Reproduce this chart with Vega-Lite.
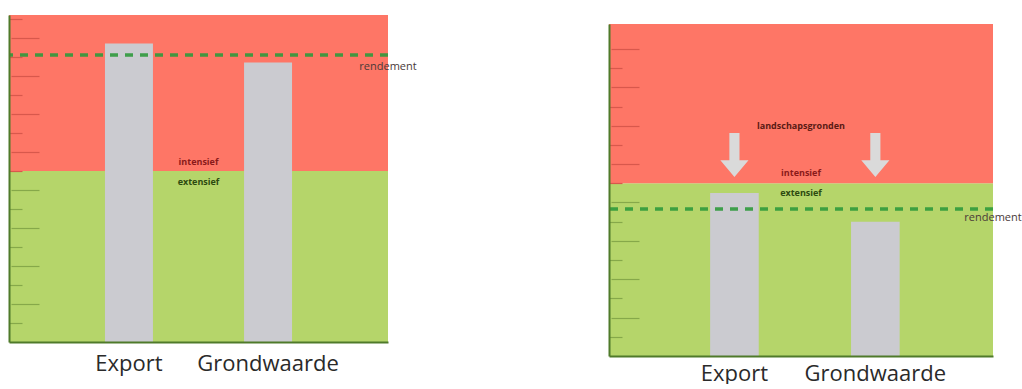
{
  "$schema": "https://vega.github.io/schema/vega-lite/v6.json",
  "background": "white",
  "padding": {"left": 7, "top": 15, "right": 0, "bottom": 0},
  "spacing": 190,
  "bounds": "full",
  "config": {"view": {"stroke": null}, "font": "Open Sans"},
  "datasets": {
    "zonesL": [{"zone": "extensief", "van": 0, "tot": 9}, {"zone": "intensief", "van": 9, "tot": 17.2}],
    "zonesR": [{"zone": "extensief", "van": 0, "tot": 9}, {"zone": "intensief", "van": 9, "tot": 17.3}],
    "barsL": [{"categorie": "Export", "waarde": 15.7}, {"categorie": "Grondwaarde", "waarde": 14.7}],
    "barsR": [{"categorie": "Export", "waarde": 8.5}, {"categorie": "Grondwaarde", "waarde": 7.0}],
    "rendL": [{"label": "rendement", "rendement": 15.1, "labelY": 14.47}],
    "rendR": [{"label": "rendement", "rendement": 7.66, "labelY": 7.19}],
    "intL": [{"label": "intensief", "y": 9.47}],
    "extL": [{"label": "extensief", "y": 8.42}],
    "intR": [{"label": "intensief", "y": 9.53}],
    "extR": [{"label": "extensief", "y": 8.49}],
    "landR": [{"label": "landschapsgronden", "y": 11.98}],
    "arrowsR": [{"categorie": "Export", "y": 10.47}, {"categorie": "Grondwaarde", "y": 10.47}]
  },
  "hconcat": [
    {
      "width": 379,
      "height": 327,
      "resolve": {"axis": {"y": "independent"}},
      "layer": [
        {
          "data": {"name": "zonesL"},
          "mark": {"type": "rect"},
          "encoding": {
            "y": {"field": "van", "type": "quantitative",
              "scale": {"domain": [0, 17.2], "nice": false, "zero": true},
              "axis": {"title": null, "labels": false, "grid": false, "zindex": 1, "orient": "left",
                "values": [1,3,5,7,9,11,13,15,17],
                "ticks": true, "tickSize": -13,
                "tickColor": {"condition": {"test": "datum.value >= 9", "value": "#d8584c"}, "value": "#86a84a"},
                "tickWidth": 1.2,
                "domainColor": "#4f7a2a", "domainWidth": 2}},
            "y2": {"field": "tot"},
            "color": {"field": "zone", "type": "nominal",
              "scale": {"domain": ["extensief", "intensief"], "range": ["#b5d56a", "#fe7666"]},
              "legend": null}
          }
        },
        {
          "data": {"name": "barsL"},
          "mark": {"type": "bar", "color": "#cbcbd0"},
          "encoding": {
            "x": {"field": "categorie", "type": "nominal",
              "scale": {"paddingInner": 0.655, "paddingOuter": 0.69, "align": 0.5},
              "axis": {"title": null, "labelAngle": 0, "ticks": false, "labelFontSize": 22, "zindex": 1,
                "labelFont": "Open Sans", "labelColor": "#2a2a2a", "labelPadding": 11,
                "domainColor": "#4f7a2a", "domainWidth": 2}},
            "y": {"field": "waarde", "type": "quantitative",
              "axis": {"title": null, "labels": false, "grid": false, "zindex": 1, "orient": "left", "offset": -2,
                "values": [2,4,6,8,10,12,14,16],
                "ticks": true, "tickSize": -28, "domain": false,
                "tickColor": {"condition": {"test": "datum.value >= 9", "value": "#d8584c"}, "value": "#86a84a"},
                "tickWidth": 1.2}}
          }
        },
        {
          "data": {"name": "rendL"},
          "mark": {"type": "rule", "color": "#2f9a3c", "strokeWidth": 3.5, "strokeDash": [8, 7], "opacity": 0.9},
          "encoding": {"y": {"field": "rendement", "type": "quantitative", "axis": null}}
        },
        {
          "data": {"name": "rendL"},
          "mark": {"type": "text", "color": "#4a3a38", "fontSize": 11, "align": "center", "baseline": "middle"},
          "encoding": {"x": {"value": "width"}, "y": {"field": "labelY", "type": "quantitative", "axis": null}, "text": {"field": "label"}}
        },
        {
          "data": {"name": "intL"},
          "mark": {"type": "text", "color": "#8a1a1a", "fontSize": 9, "fontWeight": "bold", "baseline": "middle"},
          "encoding": {"y": {"field": "y", "type": "quantitative", "axis": null}, "text": {"field": "label"}}
        },
        {
          "data": {"name": "extL"},
          "mark": {"type": "text", "color": "#2d4a10", "fontSize": 9, "fontWeight": "bold", "baseline": "middle"},
          "encoding": {"y": {"field": "y", "type": "quantitative", "axis": null}, "text": {"field": "label"}}
        }
      ]
    },
    {
      "spacing": 8,
      "bounds": "full",
      "vconcat": [
        {
          "width": 384,
          "height": 1,
          "data": {"values": []},
          "mark": {"type": "point", "opacity": 0},
          "encoding": {}
        },
        {
          "width": 384,
          "height": 332,
          "resolve": {"axis": {"y": "independent"}},
          "layer": [
            {
              "data": {"name": "zonesR"},
              "mark": {"type": "rect"},
              "encoding": {
                "y": {"field": "van", "type": "quantitative",
                  "scale": {"domain": [0, 17.3], "nice": false, "zero": true},
                  "axis": {"title": null, "labels": false, "grid": false, "zindex": 1, "orient": "left",
                    "values": [1,3,5,7,9,11,13,15],
                    "ticks": true, "tickSize": -13,
                    "tickColor": {"condition": {"test": "datum.value >= 9", "value": "#d8584c"}, "value": "#86a84a"},
                    "tickWidth": 1.2,
                    "domainColor": "#4f7a2a", "domainWidth": 2}},
                "y2": {"field": "tot"},
                "color": {"field": "zone", "type": "nominal",
                  "scale": {"domain": ["extensief", "intensief"], "range": ["#b5d56a", "#fe7666"]},
                  "legend": null}
              }
            },
            {
              "data": {"name": "barsR"},
              "mark": {"type": "bar", "color": "#cbcbd0"},
              "encoding": {
                "x": {"field": "categorie", "type": "nominal",
                  "scale": {"paddingInner": 0.655, "paddingOuter": 0.69, "align": 0.52},
                  "axis": {"title": null, "labelAngle": 0, "ticks": false, "labelFontSize": 22, "zindex": 1,
                    "labelFont": "Open Sans", "labelColor": "#2a2a2a", "labelPadding": 7,
                    "domainColor": "#4f7a2a", "domainWidth": 2}},
                "y": {"field": "waarde", "type": "quantitative",
                  "axis": {"title": null, "labels": false, "grid": false, "zindex": 1, "orient": "left", "offset": -2,
                    "values": [2,4,6,8,10,12,14,16],
                    "ticks": true, "tickSize": -28, "domain": false,
                    "tickColor": {"condition": {"test": "datum.value >= 9", "value": "#d8584c"}, "value": "#86a84a"},
                    "tickWidth": 1.2}}
              }
            },
            {
              "data": {"name": "arrowsR"},
              "mark": {"type": "point", "filled": true, "opacity": 1, "color": "#dadada", "size": 1936,
                "shape": "M-0.23,-1 L0.23,-1 L0.23,0.23 L0.64,0.23 L0,1 L-0.64,0.23 L-0.23,0.23 Z"},
              "encoding": {"x": {"field": "categorie", "type": "nominal"}, "y": {"field": "y", "type": "quantitative", "axis": null}}
            },
            {
              "data": {"name": "rendR"},
              "mark": {"type": "rule", "color": "#2f9a3c", "strokeWidth": 3.5, "strokeDash": [8, 7], "opacity": 0.9},
              "encoding": {"y": {"field": "rendement", "type": "quantitative", "axis": null}}
            },
            {
              "data": {"name": "rendR"},
              "mark": {"type": "text", "color": "#4a3a38", "fontSize": 11, "align": "center", "baseline": "middle"},
              "encoding": {"x": {"value": "width"}, "y": {"field": "labelY", "type": "quantitative", "axis": null}, "text": {"field": "label"}}
            },
            {
              "data": {"name": "landR"},
              "mark": {"type": "text", "color": "#5a1a14", "fontSize": 9, "fontWeight": "bold", "baseline": "middle"},
              "encoding": {"y": {"field": "y", "type": "quantitative", "axis": null}, "text": {"field": "label"}}
            },
            {
              "data": {"name": "intR"},
              "mark": {"type": "text", "color": "#8a1a1a", "fontSize": 9, "fontWeight": "bold", "baseline": "middle"},
              "encoding": {"y": {"field": "y", "type": "quantitative", "axis": null}, "text": {"field": "label"}}
            },
            {
              "data": {"name": "extR"},
              "mark": {"type": "text", "color": "#2d4a10", "fontSize": 9, "fontWeight": "bold", "baseline": "middle"},
              "encoding": {"y": {"field": "y", "type": "quantitative", "axis": null}, "text": {"field": "label"}}
            }
          ]
        }
      ]
    }
  ]
}
